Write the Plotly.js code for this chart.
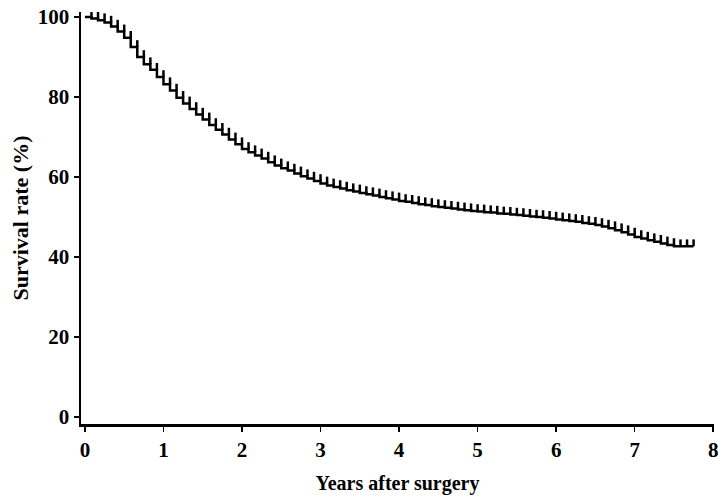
<!DOCTYPE html>
<html>
<head>
<meta charset="utf-8">
<script src="https://cdn.plot.ly/plotly-3.0.1.min.js"></script>
<style>html,body{margin:0;padding:0;background:#fff;}#chart{width:724px;height:496px;}</style>
</head>
<body>
<div id="chart"></div>
<script>
// Months after surgery (step times)
const months = [0,1,2,3,4,5,6,7,8,9,10,11,12,13,14,15,16,17,18,19,20,21,22,23,24,25,26,27,28,29,30,
  31,32,33,34,35,36,37,38,39,40,41,42,43,44,45,46,47,48,49,50,51,52,53,54,55,56,57,58,59,60,
  61,62,63,64,65,66,67,68,69,70,71,72,73,74,75,76,77,78,79,80,81,82,83,84,85,86,87,88,89,90,91,92,93];
// Survival rate (%) after each step
const survival = [100,99.6,99.2,98.6,97.6,96.4,94.8,92.5,90.0,88.2,86.8,85.0,83.2,81.6,79.8,78.4,77.0,75.6,74.4,73.0,71.8,
  70.6,69.4,68.2,67.0,66.2,65.4,64.6,63.7,62.9,62.2,61.6,60.9,60.2,59.6,59.0,58.4,57.9,57.5,57.1,56.7,
  56.4,56.0,55.7,55.4,55.0,54.7,54.4,54.0,53.8,53.5,53.2,53.0,52.7,52.5,52.3,52.1,51.9,51.7,51.5,51.4,
  51.2,51.1,50.9,50.8,50.6,50.5,50.3,50.1,50.0,49.8,49.6,49.4,49.2,49.0,48.8,48.5,48.3,48.0,47.6,47.2,
  46.7,46.2,45.6,45.0,44.6,44.2,43.8,43.4,43.0,42.7,42.7,42.7,42.7];
const xTicks = [0,1,2,3,4,5,6,7,8];
const yTicks = [0,20,40,60,80,100];

const years = months.map(m => m / 12);
// censor marks at each step time, on the level before the step
const censorX = years.slice(1);
const censorY = survival.slice(0, -1);

const fontFam = '"Liberation Serif", "Times New Roman", serif';

const traces = [
  {
    x: years, y: survival, type: 'scatter', mode: 'lines',
    line: {shape: 'hv', color: '#000', width: 2.5},
    hoverinfo: 'skip', showlegend: false
  },
  {
    x: censorX, y: censorY, type: 'scatter', mode: 'markers',
    marker: {size: 0.1, color: 'rgba(0,0,0,0)'},
    error_y: {type: 'constant', symmetric: false, value: 1.7, valueminus: 0, width: 0, thickness: 2.5, color: '#000'},
    hoverinfo: 'skip', showlegend: false
  }
];

const layout = {
  width: 724, height: 496,
  margin: {l: 81, r: 10, t: 12, b: 72},
  paper_bgcolor: '#fff', plot_bgcolor: '#fff',
  font: {family: fontFam, color: '#000', size: 21, weight: 'bold'},
  xaxis: {
    range: [-0.05, 8.01], tickvals: xTicks, ticktext: xTicks.map(String),
    showgrid: false, zeroline: false, showline: true, linecolor: '#000', linewidth: 2.5,
    ticks: 'outside', ticklen: 5, tickwidth: 1.5, tickcolor: '#000',
    tickfont: {family: fontFam, size: 21, color: '#000', weight: 'bold'},
    title: {text: 'Years after surgery', font: {family: fontFam, size: 20, color: '#000', weight: 'bold'}, standoff: 16}
  },
  yaxis: {
    range: [-1.75, 101.25], tickvals: yTicks, ticktext: yTicks.map(String),
    showgrid: false, zeroline: false, showline: true, linecolor: '#000', linewidth: 2.5,
    ticks: 'outside', ticklen: 5, tickwidth: 1.5, tickcolor: '#000',
    tickfont: {family: fontFam, size: 21, color: '#000', weight: 'bold'},
    title: {text: 'Survival rate (%)', font: {family: fontFam, size: 22, color: '#000', weight: 'bold'}, standoff: 3}
  }
};

Plotly.newPlot('chart', traces, layout, {staticPlot: true, displayModeBar: false});
</script>
</body>
</html>
